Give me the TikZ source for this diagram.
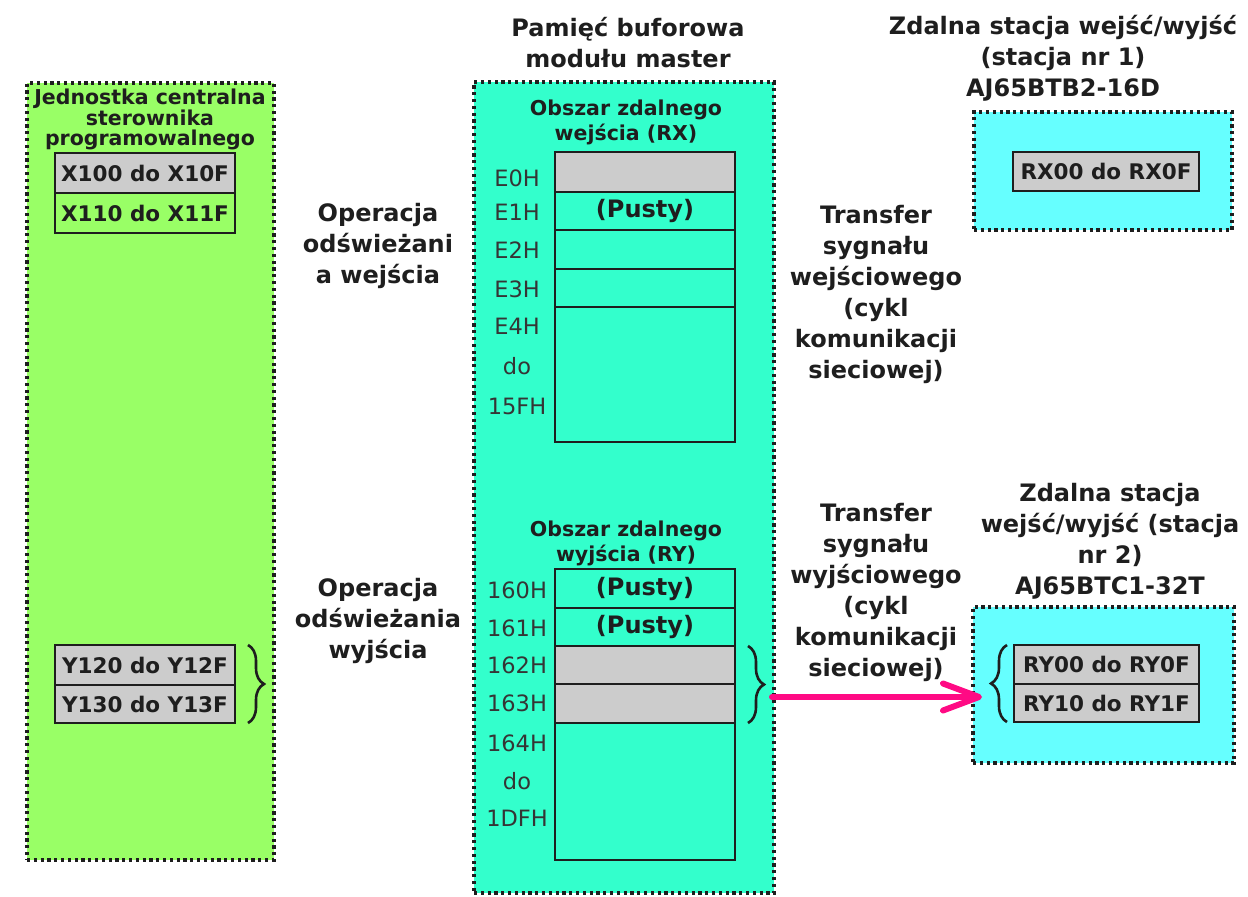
\documentclass[tikz,border=0pt]{standalone}
\usepackage{fontspec}
\setmainfont{DejaVu Sans}
\usetikzlibrary{arrows.meta,positioning,decorations.pathreplacing}
\definecolor{cpugreen}{HTML}{99FF66}
\definecolor{bufaqua}{HTML}{33FFCC}
\definecolor{stcyan}{HTML}{66FFFF}
\definecolor{cellgray}{HTML}{CCCCCC}
\definecolor{xferpink}{HTML}{FF0A84}
\definecolor{ink}{HTML}{1E1E1E}
\tikzset{
  panel/.style={draw=ink, line width=3.2pt, dash pattern=on 3.2pt off 3.6pt, inner sep=0pt},
  cell/.style={draw=ink, line width=1.5pt, inner sep=0pt, outer sep=0pt,
    minimum width=180pt, font=\bfseries\fontsize{21.5}{22}\selectfont, text=ink},
  memcell/.style={cell, font=\bfseries\fontsize{24}{24}\selectfont},
  addr/.style={font=\fontsize{22.5}{22}\selectfont, text=ink!90, inner sep=0pt},
  heading/.style={font=\bfseries\fontsize{24}{31}\selectfont, align=center, text=ink, inner sep=0pt},
  subheading/.style={font=\bfseries\fontsize{20.5}{19.5}\selectfont, align=center, text=ink, inner sep=0pt},
  areatitle/.style={font=\bfseries\fontsize{20.5}{25}\selectfont, align=center, text=ink, inner sep=0pt},
  regbrace/.style={decorate, decoration={brace, amplitude=16pt}, line width=2.6pt, draw=ink},
  xferarrow/.style={-{Straight Barb[length=36pt, width=27pt, round]}, line width=6pt,
    draw=xferpink, line cap=round}
}

\begin{document}
\begin{tikzpicture}[x=1pt, y=-1pt]
    \useasboundingbox (0,0) rectangle (1248,897);

    % the three units
    \node[panel, fill=cpugreen, minimum width=247pt, minimum height=777pt] (cpu) at (150.5,471.5) {};
    \node[panel, fill=bufaqua, minimum width=300pt, minimum height=811pt] (buf) at (624,487.5) {};
    \node[panel, fill=stcyan, minimum width=258pt, minimum height=118pt] (st1) at (1103,171) {};
    \node[panel, fill=stcyan, minimum width=261pt, minimum height=156pt] (st2) at (1103.5,685) {};

    % CPU devices
    \node[subheading] (cpu-title) at (150,119.5) {Jednostka centralna\\sterownika\\programowalnego};
    \node[cell, fill=cellgray, minimum height=40pt] (x100) at (145,173) {X100 do X10F};
    \node[cell, minimum height=40pt, below=0pt of x100] (x110) {X110 do X11F};
    \node[cell, fill=cellgray, minimum height=40pt] (y120) at (145,665) {Y120 do Y12F};
    \node[cell, fill=cellgray, minimum height=38pt, below=0pt of y120] (y130) {Y130 do Y13F};

    % buffer memory, RX area
    \node[heading] (buf-title) at (628,43) {Pamięć buforowa\\modułu master};
    \node[areatitle] (rx-title) at (626,122) {Obszar zdalnego\\wejścia (RX)};
    \node[memcell, fill=cellgray, minimum height=40pt] (rx0) at (645,172) {};
    \node[memcell, minimum height=38pt, below=0pt of rx0] (rx1) {(Pusty)};
    \node[memcell, minimum height=39pt, below=0pt of rx1] (rx2) {};
    \node[memcell, minimum height=38pt, below=0pt of rx2] (rx3) {};
    \node[memcell, minimum height=135pt, below=0pt of rx3] (rx4) {};
    \foreach \lbl/\ypos in {E0H/178, E1H/212, E2H/250, E3H/289, E4H/326, do/366, 15FH/406}
        \node[addr] (rxaddr-\ypos) at (517,\ypos) {\lbl};

    % buffer memory, RY area
    \node[areatitle] (ry-title) at (626,543) {Obszar zdalnego\\wyjścia (RY)};
    \node[memcell, minimum height=39pt] (ry0) at (645,588.5) {(Pusty)};
    \node[memcell, minimum height=38pt, below=0pt of ry0] (ry1) {(Pusty)};
    \node[memcell, fill=cellgray, minimum height=38pt, below=0pt of ry1] (ry2) {};
    \node[memcell, fill=cellgray, minimum height=39pt, below=0pt of ry2] (ry3) {};
    \node[memcell, minimum height=137pt, below=0pt of ry3] (ry4) {};
    \foreach \lbl/\ypos in {160H/590, 161H/628, 162H/665, 163H/703, 164H/743, do/781, 1DFH/818}
        \node[addr] (ryaddr-\ypos) at (517,\ypos) {\lbl};

    % remote stations
    \node[heading] (st1-title) at (1063,58) {Zdalna stacja wejść/wyjść\\(stacja nr 1)\\AJ65BTB2-16D};
    \node[cell, fill=cellgray, minimum width=186pt, minimum height=39pt] (rx00) at (1106,171.5) {RX00 do RX0F};
    \node[heading] (st2-title) at (1110,541) {Zdalna stacja\\wejść/wyjść (stacja\\nr 2)\\AJ65BTC1-32T};
    \node[cell, fill=cellgray, minimum width=185pt, minimum height=39pt] (ry00) at (1106.5,664.5) {RY00 do RY0F};
    \node[cell, fill=cellgray, minimum width=185pt, minimum height=38pt, below=0pt of ry00] (ry10) {RY10 do RY1F};

    % refresh and transfer notes
    \node[heading] (refresh-in) at (378,246) {Operacja\\odświeżani\\a wejścia};
    \node[heading] (refresh-out) at (378,621) {Operacja\\odświeżania\\wyjścia};
    \node[heading] (xfer-in) at (876,294) {Transfer\\sygnału\\wejściowego\\(cykl\\komunikacji\\sieciowej)};
    \node[heading] (xfer-out) at (876,592) {Transfer\\sygnału\\wyjściowego\\(cykl\\komunikacji\\sieciowej)};

    % braces round the grouped words
    \draw[regbrace] ([xshift=13pt]y120.north east) -- ([xshift=13pt]y130.south east);
    \draw[regbrace] ([xshift=13pt]ry2.north east) -- ([xshift=13pt]ry3.south east);
    \draw[regbrace] ([xshift=-7pt]ry10.south west) -- ([xshift=-7pt]ry00.north west);

    \coordinate (ry-out) at (772,697);
    \coordinate (st2-in) at (982,697);
    \draw[xferarrow] (ry-out) -- (st2-in);
\end{tikzpicture}
\end{document}
